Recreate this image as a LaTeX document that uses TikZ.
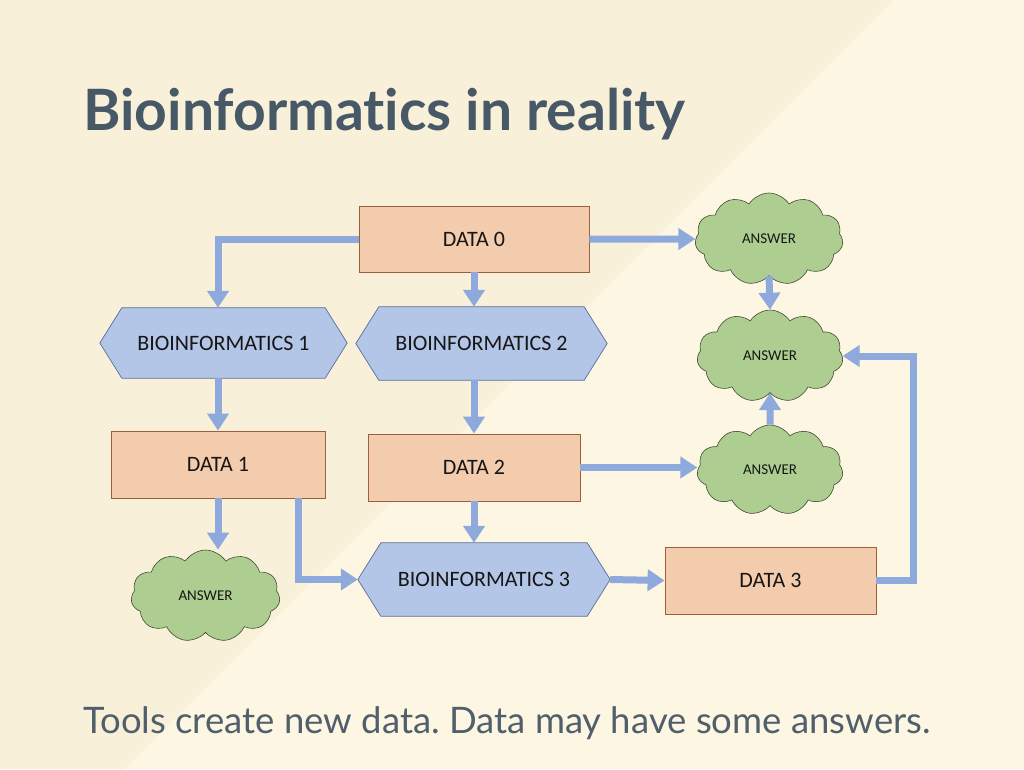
\documentclass[tikz,border=0pt]{standalone}
\usepackage{fontspec}
\setmainfont{Carlito}
\newfontfamily\latofont[Ligatures=NoCommon]{Lato}
\usetikzlibrary{arrows.meta,shapes.symbols,calc}
\definecolor{bglight}{HTML}{FDF6E2}
\definecolor{bgdark}{HTML}{F9F0DA}
\definecolor{titlec}{HTML}{475866}
\definecolor{subc}{HTML}{4F5F6B}
\definecolor{datafill}{HTML}{F3CCAE}
\definecolor{databorder}{HTML}{9C5F3C}
\definecolor{hexfill}{HTML}{B4C6E7}
\definecolor{hexborder}{HTML}{5A6C98}
\definecolor{cloudfill}{HTML}{AECE91}
\definecolor{cloudborder}{HTML}{3F4C33}
\definecolor{arrowc}{HTML}{8EA9DB}
\definecolor{textc}{HTML}{161616}
\pgfdeclarelayer{bg}
\pgfdeclarelayer{shapes}
\pgfsetlayers{bg,shapes,main}
\tikzset{
  databox/.style={draw=databorder, fill=datafill, line width=0.8pt, text=textc,
    font=\fontsize{22}{26}\selectfont, inner sep=0pt},
  hexbox/.style={inner sep=0pt, text=textc, font=\fontsize{22}{26}\selectfont},
  hexshape/.style={draw=hexborder, fill=hexfill, line width=0.7pt},
  answer/.style={cloud, cloud puffs=11, cloud puff arc=115, aspect=1.6,
    draw=cloudborder, fill=cloudfill, line width=0.6pt, inner sep=0pt, text=textc,
    font=\fontsize{15}{18}\selectfont},
  flow/.style={draw=arrowc, line width=7pt, line join=miter,
    -{Triangle[width=21pt,length=17pt]}},
}
\newcommand{\hexpath}[2]{%
  \begin{pgfonlayer}{shapes}
  \draw[hexshape] (#1.west) -- ([xshift=#2]#1.north west) -- ([xshift=-#2]#1.north east)
    -- (#1.east) -- ([xshift=-#2]#1.south east) -- ([xshift=#2]#1.south west) -- cycle;
  \end{pgfonlayer}}
\begin{document}
\frenchspacing
\begin{tikzpicture}[x=1pt,y=-1pt]
\useasboundingbox (0,0) rectangle (1024,769);
\begin{pgfonlayer}{bg}
\fill[bglight] (0,0) rectangle (1024,769);
\fill[bgdark] (0,0) -- (893,0) -- (124,769) -- (0,769) -- cycle;
\end{pgfonlayer}

% title and caption
\node[anchor=base west, inner sep=0pt, text=titlec, font=\latofont\bfseries\fontsize{57}{62}\selectfont]
  (title) at (83,130) {Bioinformatics in reality};
\node[anchor=base west, inner sep=0pt, text=subc, font=\latofont\fontsize{36.5}{42}\selectfont]
  (caption) at (83,733) {Tools create new data. Data may have some answers.};

% data boxes
\node[databox, minimum width=230pt, minimum height=66pt] (d0) at (474,239) {DATA 0};
\node[databox, minimum width=214pt, minimum height=67pt] (d1) at (218,464.5) {DATA 1};
\node[databox, minimum width=212pt, minimum height=67pt] (d2) at (474,467.5) {DATA 2};
\node[databox, minimum width=211pt, minimum height=67pt] (d3) at (770.5,580.5) {DATA 3};

% bioinformatics hexagons
\node[hexbox, minimum width=247pt, minimum height=70pt] (b1) at (223.5,343) {BIOINFORMATICS 1};
\node[hexbox, minimum width=251pt, minimum height=73pt] (b2) at (481.5,343.5) {BIOINFORMATICS 2};
\node[hexbox, minimum width=252pt, minimum height=73pt] (b3) at (484,579.5) {BIOINFORMATICS 3};
\hexpath{b1}{22pt}
\hexpath{b2}{23pt}
\hexpath{b3}{23pt}

% answers
\node[answer, minimum width=148pt, minimum height=92pt] (c1) at (769,239) {ANSWER};
\node[answer, minimum width=146pt, minimum height=92pt] (c2) at (770,356) {ANSWER};
\node[answer, minimum width=146pt, minimum height=90pt] (c3) at (770,470) {ANSWER};
\node[answer, minimum width=149pt, minimum height=92pt] (c4) at (205.5,596) {ANSWER};

% connectors
\draw[flow] (d0.west) -| (d1.north |- b1.north);
\draw[flow] (d0.south) -- (d0.south |- b2.north);
\draw[flow] (d0.east) -- (c1.west);
\draw[flow] (d1.north |- b1.south) -- (d1.north);
\draw[flow] (d2.north |- b2.south) -- (d2.north);
\draw[flow] (d1.south) -- (d1.south |- c4.north);
\draw[flow] ([xshift=80pt]d1.south) |- (b3.west);
\draw[flow] (d2.south) -- (d2.south |- b3.north);
\draw[flow] (d2.east) -- (d2.east -| c3.west);
\draw[flow] (b3.east) -- (d3.west);
\draw[flow] (d3.east) -- ++(37,0) |- (c2.east);
\draw[flow] (c1.south) -- (c2.north);
\draw[flow] (c3.north) -- (c2.south);
\end{tikzpicture}
\end{document}
